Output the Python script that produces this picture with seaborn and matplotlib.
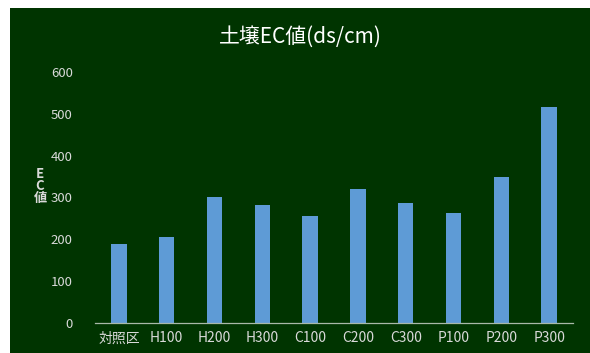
import matplotlib
matplotlib.use("Agg")
import matplotlib.pyplot as plt
from matplotlib.patches import Rectangle
import seaborn as sns
import pandas as pd

categories = ["対照区", "H100", "H200", "H300", "C100", "C200", "C300", "P100", "P200", "P300"]
values = [188, 205, 302, 282, 256, 320, 287, 263, 349, 516]
yticks = [0, 100, 200, 300, 400, 500, 600]

sns.set_theme(style="white")
plt.rcParams['font.family'] = ['Noto Sans CJK JP', 'DejaVu Sans']

BG = "#003400"
BAR = "#5e9bd6"
TXT = "#d9d9d9"

fig = plt.figure(figsize=(5.9, 3.53), dpi=100)
fig.patch.set_facecolor("white")
fig.patches.append(Rectangle((10/590, 0), 1, (353-8)/353, transform=fig.transFigure,
                             facecolor=BG, edgecolor="none", zorder=-10))

ax = fig.add_axes([95/590, (353-323)/353, (573-95)/590, (323-72)/353])
ax.set_facecolor("none")

df = pd.DataFrame({"cat": categories, "val": values})
sns.barplot(data=df, x="cat", y="val", color=BAR, width=0.32, saturation=1,
            edgecolor="none", linewidth=0, ax=ax)

ax.set_xlim(-0.5, len(categories) - 0.5)
ax.set_ylim(0, 600)
ax.set_yticks(yticks)
ax.set_yticklabels([str(v) for v in yticks])
for s in ["top", "right", "left"]:
    ax.spines[s].set_visible(False)
ax.spines["bottom"].set_color("#a9b9a9")
ax.spines["bottom"].set_linewidth(0.9)
ax.tick_params(axis="x", colors=TXT, labelsize=10, length=0, pad=6)
ax.tick_params(axis="y", colors=TXT, labelsize=9.5, length=0, pad=16)
ax.set_xlabel("")
ax.set_ylabel("")

fig.text(40/590, 1 - 186/353, "E\nC\n値", color=TXT, fontsize=9.5, ha="center", va="center",
         linespacing=0.85, fontweight="bold")
fig.text(300/590, 1 - 37/353, "土壌EC値(ds/cm)", color="white", fontsize=15,
         ha="center", va="center")

fig.savefig("out.png", dpi=100, facecolor=fig.get_facecolor())
